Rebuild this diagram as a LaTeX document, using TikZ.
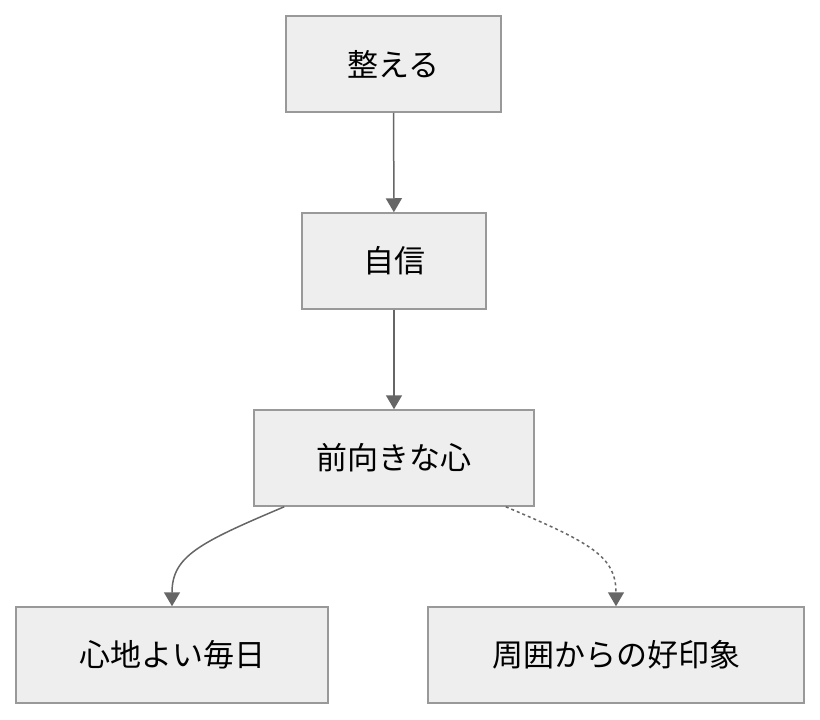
\documentclass[tikz,border=0pt]{standalone}
\usepackage{fontspec}
\setmainfont{Noto Sans CJK JP}
\usetikzlibrary{arrows.meta}
\definecolor{boxfill}{HTML}{EEEEEE}
\definecolor{boxline}{HTML}{999999}
\definecolor{edgeline}{HTML}{666666}
\begin{document}
\begin{tikzpicture}[x=1pt,y=-1pt]
\tikzstyle{every node}=[font=\fontsize{31}{36}\selectfont]
\tikzstyle{box}=[draw=boxline, fill=boxfill, line width=1.5pt, minimum height=96pt, inner sep=0pt]
\tikzstyle{link}=[draw=edgeline, line width=1.5pt, -{Triangle[length=14pt,width=16pt]}]
\useasboundingbox (0,0) rectangle (820,720);
% totonoeru
  \node[box, minimum width=215pt] (tidy) at (393.5,64) {整える};
% jishin
  \node[box, minimum width=184pt] (conf) at (394,261) {自信};
% maemuki
  \node[box, minimum width=280pt] (mind) at (394,458) {前向きな心};
% kokochi
  \node[box, minimum width=312pt] (days) at (172,655) {心地よい毎日};
% koinsho
  \node[box, minimum width=376pt] (impr) at (616,655) {周囲からの好印象};
%%%%%%%%%%%%%%%%
\draw[link] (tidy) -- (conf);
\draw[link] (conf) -- (mind);
\draw[link] ([xshift=31pt]mind.south west) .. controls +(-85,36) and +(0,-50) .. (days.north);
\draw[link, dash pattern=on 3pt off 3pt] ([xshift=-29pt]mind.south east) .. controls +(85,36) and +(0,-50) .. (impr.north);
\end{tikzpicture}
\end{document}
